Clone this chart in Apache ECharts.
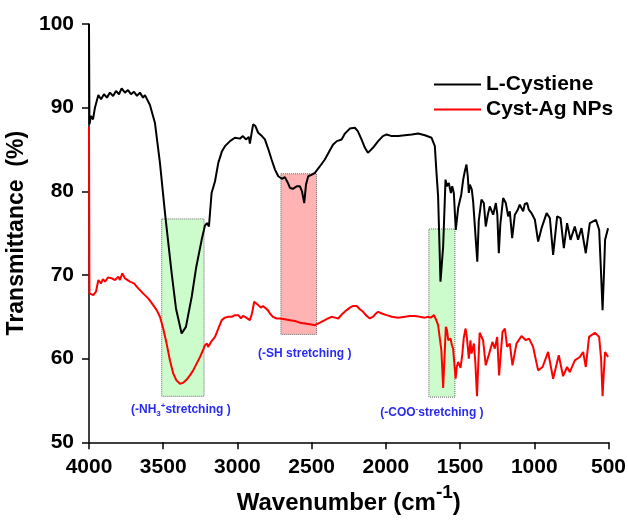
<!DOCTYPE html>
<html>
<head>
<meta charset="utf-8">
<script src="https://cdn.jsdelivr.net/npm/echarts@6/dist/echarts.min.js"></script>
<style>html,body{margin:0;padding:0;background:#fff;overflow:hidden}#c{width:628px;height:520px}</style>
</head>
<body>
<div id="c"></div>
<script>
// ---- data ----
const xTicks = [4000, 3500, 3000, 2500, 2000, 1500, 1000, 500];
const yTicks = [50, 60, 70, 80, 90, 100];
const seriesNames = ['L-Cystiene', 'Cyst-Ag NPs'];

const blackWn = [4000,3997,3987,3973,3960,3937,3919,3899,3879,3859,3838,3818,3798,3780,3758,3737,3717,3697,3677,3657,3636,3623,3603,3589,3556,3522,3488,3443,3414,3376,3347,3308,3279,3241,3219,3205,3192,3174,3151,3129,3104,3084,3050,3017,2983,2963,2943,2923,2916,2906,2894,2879,2860,2835,2815,2795,2770,2747,2725,2700,2680,2660,2646,2626,2601,2579,2565,2550,2538,2523,2498,2478,2444,2411,2377,2355,2330,2298,2276,2243,2209,2189,2164,2141,2121,2108,2087,2052,2020,1995,1960,1917,1872,1825,1782,1737,1692,1670,1660,1648,1632,1614,1598,1589,1576,1562,1553,1542,1529,1513,1502,1492,1479,1468,1457,1448,1441,1434,1428,1421,1412,1401,1384,1374,1356,1340,1327,1313,1300,1277,1259,1249,1239,1229,1210,1192,1176,1165,1149,1131,1111,1098,1075,1064,1048,1037,1019,996,974,951,917,895,873,846,823,801,779,756,727,705,682,653,626,585,563,552,540,531,523,503];
const blackT = [100,88,89,88.6,90,91.5,91,91.6,91.2,91.8,91.4,92,91.6,92.3,91.8,92.1,91.6,91.9,91.4,91.8,91.2,91.5,90.8,90.3,88.2,83.4,77.4,70.2,66,63,63.8,67.4,70.8,74.2,75.9,76.2,75.8,79.8,81.2,83.4,84.8,85.4,86,86.4,86.3,86.6,86.2,86.5,85.7,86.8,88,87.8,87,86.6,86.2,85.2,83.8,82.6,81.8,81.5,81.7,81,80.4,80.3,80.6,80.6,80,78.6,80.8,81.8,82,82.2,83,83.8,84.9,85.6,86,86.2,86.9,87.5,87.6,87.2,86.2,85.2,84.6,84.6,85.2,86,86.6,86.8,86.6,86.6,86.7,86.8,86.9,86.7,86.4,85.4,82.5,79.4,69.2,73.4,81.4,80.6,81,79.8,80.6,79.8,75.4,78,78.2,79.6,81.4,82.4,83.2,81.8,79.8,80.8,81,80.2,78.8,79,71.6,76.5,79,78.6,75.8,77.2,78.2,77.2,78.6,77.2,72.6,76,79.2,78.6,77,77.6,74.4,77.2,77.8,78.4,77.6,78.5,78.6,77.8,77.4,76.6,74,75.6,77.4,76.8,72.4,77,76.8,73.2,76.2,74.2,75.8,74.2,75.6,72.6,76.2,76.6,75.4,71,65.8,70,74.2,75.6];

const redWn = [4000,3997,3971,3953,3937,3919,3906,3892,3872,3847,3825,3803,3791,3776,3758,3724,3697,3668,3636,3601,3576,3544,3522,3500,3477,3455,3432,3411,3387,3367,3342,3320,3298,3275,3252,3232,3219,3205,3197,3178,3151,3129,3106,3084,3062,3039,3017,2994,2976,2963,2949,2936,2916,2902,2887,2872,2860,2842,2828,2815,2795,2781,2761,2736,2714,2680,2646,2613,2579,2545,2512,2478,2444,2411,2390,2366,2343,2321,2296,2264,2242,2220,2197,2175,2153,2135,2108,2087,2067,2052,2027,1995,1960,1917,1872,1838,1804,1771,1737,1715,1697,1675,1658,1648,1636,1626,1614,1604,1596,1588,1580,1564,1555,1547,1530,1522,1513,1497,1485,1475,1463,1454,1441,1430,1423,1407,1397,1386,1378,1368,1345,1327,1304,1282,1266,1250,1237,1214,1198,1183,1165,1147,1120,1086,1057,1035,1008,974,944,907,873,835,806,779,761,727,693,671,653,631,592,563,550,540,531,523,503];
const redT = [87.7,67.8,67.6,68,69.4,69,69.5,69.2,69.7,69.6,69.4,69.8,69.4,70.2,69.6,69.2,69,68.4,67.8,67.2,66.6,65.8,65,63.6,61.8,59.8,58.2,57.4,57,57.1,57.5,58,58.6,59.4,60.2,61,61.6,61.8,61.4,62,62.6,63.6,64.6,64.9,65,65,65.2,65.2,64.8,65.1,65,65.1,64.6,65.4,66.8,66.6,66.4,66.1,66.3,66.2,65.8,65.4,65,64.8,64.8,64.7,64.6,64.5,64.3,64.2,64.1,64,64.3,64.6,64.8,65,64.9,64.8,65.3,65.8,66.1,66.3,66.3,65.9,65.6,65.2,64.8,65,65.4,65.6,65.4,65.2,65,64.9,65,65.1,65.1,65,64.9,65,64.9,65.2,64.5,64,63.8,61,56.5,60.5,63.8,63.4,62.2,62.4,61.6,61.2,57.6,59,59.6,58.9,60.5,62.5,63.6,62.5,60,62.2,60.6,61.8,59.5,55.5,59,63.1,62.2,59.2,60.6,62,61.2,62.6,58,63.2,63.6,61.4,61.8,59.2,61.8,62.7,62.2,62.4,61.4,58.6,59,60.8,57.6,60.4,57.9,59,58.4,59.8,60.2,60.8,59,62.6,63.1,62.6,60,55.5,58.5,60.8,60.2];

// shaded bands: [wn from, wn to, T low, T high]
const bandNH = [3510, 3225, 55.5, 76.7];
const bandSH = [2707, 2467, 62.9, 82.1];
const bandCOO = [1710, 1535, 55.4, 75.5];

// ---- chart ----
const zip = (a, b) => a.map((v, i) => [v, b[i]]);
const FONT = '"Liberation Sans", Arial, sans-serif';
const blue = '#2b2bf0';
const annRich = {
  m: {fontSize: 12, fontWeight: 'bold', color: blue, fontFamily: FONT, lineHeight: 16},
  sub: {fontSize: 8, fontWeight: 'bold', color: blue, fontFamily: FONT, lineHeight: 8, verticalAlign: 'bottom'},
  sup: {fontSize: 8, fontWeight: 'bold', color: blue, fontFamily: FONT, lineHeight: 8, verticalAlign: 'top'}
};
function band(b, fill, text, dist, dx) {
  return [
    {xAxis: b[0], yAxis: b[3],
     itemStyle: {color: fill, borderColor: '#666', borderWidth: 1, borderType: 'dotted'},
     label: {show: true, position: 'bottom', distance: dist, offset: [dx, 0], formatter: text, rich: annRich}},
    {xAxis: b[1], yAxis: b[2]}
  ];
}

const chart = echarts.init(document.getElementById('c'), null, {renderer: 'canvas', width: 628, height: 520});
chart.setOption({
  animation: false,
  backgroundColor: '#fff',
  grid: {left: 89, right: 19.5, top: 24, bottom: 77.7, containLabel: false, outerBoundsMode: 'none'},
  legend: {
    orient: 'vertical', left: 429, top: 69,
    itemWidth: 47, itemHeight: 2, itemGap: 4, icon: 'rect',
    textStyle: {fontSize: 21, fontWeight: 'bold', color: '#000', fontFamily: FONT, lineHeight: 21},
    data: seriesNames
  },
  xAxis: {
    type: 'value', inverse: true, min: 500, max: 4000, interval: 500,
    name: '{m|Wavenumber (cm}{sup|-1}{m|)}', nameLocation: 'middle', nameGap: 41,
    nameTextStyle: {fontSize: 24, fontWeight: 'bold', color: '#000', fontFamily: FONT,
      rich: {
        m: {fontSize: 24, fontWeight: 'bold', color: '#000', fontFamily: FONT, lineHeight: 32, verticalAlign: 'bottom'},
        sup: {fontSize: 19, fontWeight: 'bold', color: '#000', fontFamily: FONT, lineHeight: 20, verticalAlign: 'top'}
      }},
    axisLine: {show: true, lineStyle: {color: '#000', width: 1.5}},
    axisTick: {show: true, inside: false, length: 7, lineStyle: {color: '#000', width: 1.5}},
    axisLabel: {fontSize: 21, fontWeight: 'bold', color: '#000', fontFamily: FONT, margin: 14,
      formatter: v => String(v)},
    splitLine: {show: false}
  },
  yAxis: {
    type: 'value', min: 50, max: 100, interval: 10,
    name: 'Transmittance  (%)', nameLocation: 'middle', nameGap: 45, nameRotate: 90,
    nameTextStyle: {fontSize: 23, fontWeight: 'bold', color: '#000', fontFamily: FONT},
    axisLine: {show: true, lineStyle: {color: '#000', width: 1.5}},
    axisTick: {show: true, inside: false, length: 7, lineStyle: {color: '#000', width: 1.5}},
    axisLabel: {fontSize: 21, fontWeight: 'bold', color: '#000', fontFamily: FONT, margin: 15,
      formatter: v => String(v)},
    splitLine: {show: false}
  },
  series: [
    {
      name: seriesNames[0], type: 'line', data: zip(blackWn, blackT),
      showSymbol: false, symbol: 'none', color: '#000',
      lineStyle: {color: '#000', width: 2}, z: 3,
      markArea: {
        silent: true,
        data: [
          band(bandNH, '#ccfccc', '{m|(-NH}{sub|3}{sup|+}{m|stretching )}', 5, -2),
          band(bandSH, '#ffb3b3', '{m|(-SH stretching )}', 11, 6),
          band(bandCOO, '#ccfccc', '{m|(-COO}{sup|-}{m|stretching )}', 7, -10)
        ]
      }
    },
    {
      name: seriesNames[1], type: 'line', data: zip(redWn, redT),
      showSymbol: false, symbol: 'none', color: '#ff0000',
      lineStyle: {color: '#ff0000', width: 2}, z: 4
    }
  ]
});
</script>
</body>
</html>
